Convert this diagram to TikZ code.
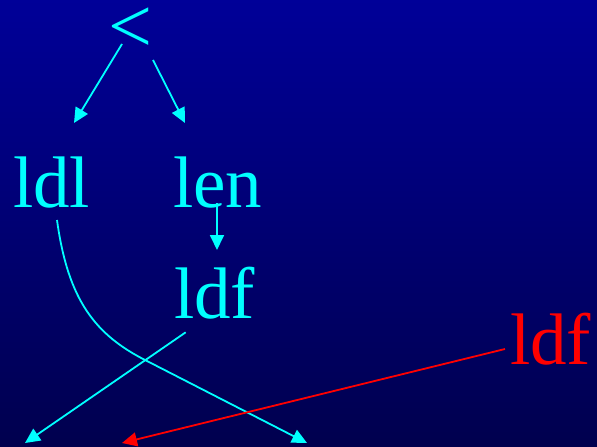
\documentclass[tikz,border=0pt]{standalone}
\usepackage{fontspec}
\setmainfont{Liberation Serif}
\usetikzlibrary{arrows.meta}
\definecolor{bgtop}{RGB}{0,0,152}
\definecolor{bgbot}{RGB}{0,0,78}
\definecolor{cy}{RGB}{0,255,255}
\definecolor{rd}{RGB}{255,0,0}
\begin{document}
\begin{tikzpicture}[x=1pt,y=-1pt,
  lbl/.style={inner sep=0pt,anchor=base west,font=\fontsize{73}{80}\selectfont},
  conn/.style={line width=1.8pt,-{Triangle[length=15pt,width=14pt]}},
  cyconn/.style={conn,draw=cy,fill=cy},
  rdconn/.style={conn,draw=rd,fill=rd}]
\shade[top color=bgtop,bottom color=bgbot] (0,0) rectangle (597,447);
\useasboundingbox (0,0) rectangle (597,447);
\node[lbl,text=cy,font=\fontsize{78}{84}\selectfont] (lt) at (108,52.5) {<};
\node[lbl,text=cy] (ldl) at (13,207) {ldl};
\node[lbl,text=cy] (len) at (173,207) {len};
\node[lbl,text=cy] (ldf) at (174,318.5) {ldf};
\node[lbl,text=rd] (ldfr) at (510,364) {ldf};
\coordinate (a1) at (122,44);
\coordinate (a1e) at (74,123);
\coordinate (a2) at (153,60);
\coordinate (a2e) at (185,123);
\coordinate (a3) at (217,203);
\coordinate (a3e) at (217,250);
\coordinate (a4) at (185.7,332.3);
\coordinate (a4e) at (25,443);
\coordinate (a5) at (57,220);
\coordinate (a5m) at (147,361);
\coordinate (a5e) at (307,443);
\coordinate (a6) at (505,349);
\coordinate (a6e) at (122,443);
\draw[cyconn] (a1) -- (a1e);
\draw[cyconn] (a2) -- (a2e);
\draw[cyconn] (a3) -- (a3e);
\draw[cyconn] (a4) -- (a4e);
\draw[cyconn,fill=none] (a5) .. controls (68,300) and (95,335) .. (a5m) -- (a5e);
\draw[rdconn] (a6) -- (a6e);
\end{tikzpicture}
\end{document}
